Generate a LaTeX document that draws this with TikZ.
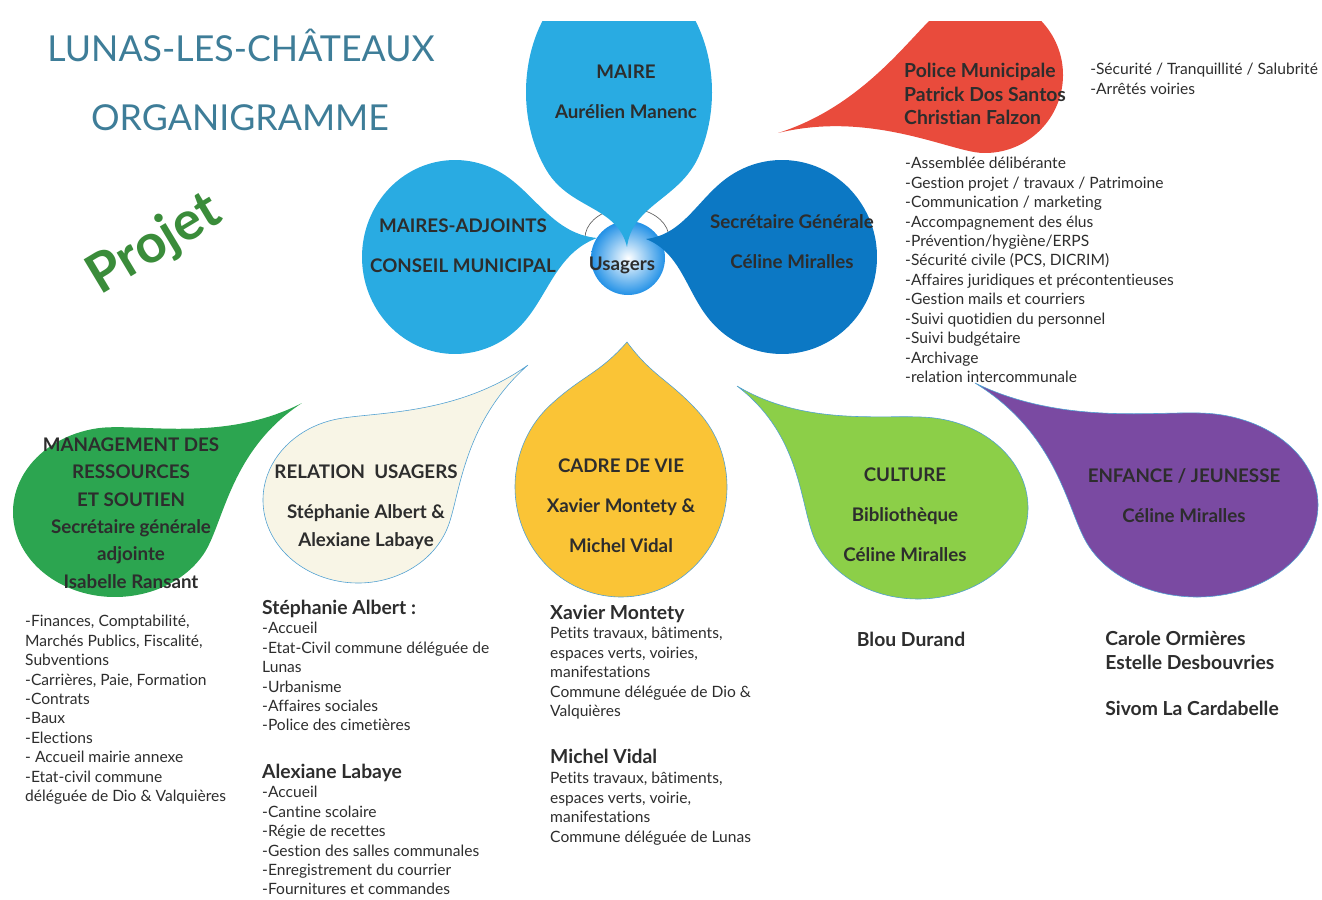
\documentclass[tikz,border=0pt]{standalone}
\usepackage{fontspec}
\setmainfont{Lato}[RawFeature=-liga]
\usepackage{tikz}

\definecolor{bleuclair}{RGB}{41,171,226}
\definecolor{bleufonce}{RGB}{12,120,196}
\definecolor{rouge}{RGB}{233,75,60}
\definecolor{vertfonce}{RGB}{44,165,80}
\definecolor{creme}{RGB}{248,245,230}
\definecolor{jaune}{RGB}{250,196,54}
\definecolor{vertclair}{RGB}{140,207,72}
\definecolor{mauve}{RGB}{122,74,162}
\definecolor{titrebleu}{RGB}{62,125,152}
\definecolor{texte}{RGB}{45,45,45}
\definecolor{contour}{RGB}{80,160,210}
\definecolor{projet}{RGB}{58,140,58}

% goutte : options, centre x, centre y, rayon x, rayon y, pointe x, pointe y, angle, queue
\newcommand{\goutte}[9]{%
  \pgfmathsetmacro\gtS{#5/#4}%
  \pgfmathsetmacro\gtX{#6-#2}%
  \pgfmathsetmacro\gtY{(#7-#3)/\gtS}%
  \pgfmathsetmacro\gtA{atan2(-\gtY,\gtX)}%
  \pgfmathsetmacro\gtD{veclen(\gtX,\gtY)}%
  \begin{scope}[shift={(#2,#3)},yscale=\gtS,rotate=\gtA]
    \path[#1] (\gtD,0)
      .. controls ({\gtD-0.5*(\gtD-#4*cos(#8))},{#9*#4}) and ({#4*cos(#8)+0.4*#4*sin(#8)},{#4*sin(#8)-0.4*#4*cos(#8)})
      .. ({#4*cos(#8)},{#4*sin(#8)})
      arc[start angle=#8,end angle=360-#8,radius=#4]
      .. controls ({#4*cos(#8)+0.4*#4*sin(#8)},{-#4*sin(#8)+0.4*#4*cos(#8)}) and ({\gtD-0.5*(\gtD-#4*cos(#8))},{-#9*#4})
      .. (\gtD,0) -- cycle;
  \end{scope}}

\tikzset{
  titre/.style={font=\bfseries\fontsize{16}{34}\selectfont, align=center, text=texte},
  liste/.style={font=\fontsize{13.3}{16.6}\selectfont, align=left, anchor=north west, inner sep=0pt, text=texte},
  nom/.style={font=\bfseries\fontsize{16.5}{19.5}\selectfont, align=left, anchor=base west, inner sep=0pt, text=texte},
  bord/.style={draw=contour, line width=0.5pt}
}

\begin{document}
\begin{tikzpicture}[x=0.03cm, y=-0.03cm]
		\useasboundingbox (0,0) rectangle (1322,899);
		
		% arcs derriere les usagers
		\draw[gray!80!black, line width=0.6pt] (585,238) arc[start angle=180, end angle=255, x radius=42, y radius=30];
		\draw[gray!80!black, line width=0.6pt] (669,238) arc[start angle=0, end angle=-75, x radius=42, y radius=30];
		\shade[inner color=white, outer color=bleuclair!85!blue] (628,258) circle (37);
		
		\begin{scope}
		\clip (0,22) rectangle (1322,899);
		\goutte{fill=bleuclair}{619}{92}{93}{125}{627}{247}{55}{0.08}
		\goutte{fill=rouge}{985}{75}{78}{78}{778}{133}{72}{0.04}
		\end{scope}
		\goutte{fill=bleuclair}{455}{257}{93}{97}{597}{238}{50}{0.1}
		\goutte{fill=bleufonce}{782}{257}{95}{97}{646}{239}{50}{0.1}
		
		\goutte{fill=vertfonce}{115}{512}{102}{85}{302}{403}{65}{0.05}
		\goutte{fill=creme, bord}{358}{500}{95}{83}{528}{365}{60}{0.05}
		\goutte{fill=jaune, bord}{621}{487}{106}{110}{627}{342}{44}{0.25}
		\goutte{fill=vertclair, bord}{918}{508}{110}{91}{737}{386}{60}{0.05}
		\goutte{fill=mauve, bord}{1197}{505}{121}{92}{975}{383}{60}{0.05}
		
		% titres
		\node[font=\fontsize{30.5}{36}\selectfont, text=titrebleu] (ville) at (241,45) {LUNAS-LES-CHÂTEAUX};
		\node[font=\fontsize{30.5}{36}\selectfont, text=titrebleu] (organi) at (240,118) {ORGANIGRAMME};
		\node[font=\bfseries\fontsize{46}{52}\selectfont, text=projet, rotate=31] (projet) at (155,245) {Projet};
		
		% gouttes du haut
		\node[titre] (maire) at (626,92) {MAIRE\\Aurélien Manenc};
		\node[titre] (adjoints) at (463,246) {MAIRES-ADJOINTS\\CONSEIL MUNICIPAL};
		\node[titre] (sg) at (792,242) {Secrétaire Générale\\Céline Miralles};
		\node[titre] (usagers) at (622,265) {Usagers};
		\node[nom, anchor=north west, font=\bfseries\fontsize{16.5}{20}\selectfont] (police) at (904,63) {Police Municipale\\Patrick Dos Santos\\Christian Falzon};
		
		\node[liste] (police-liste) at (1090,63) {-Sécurité / Tranquillité / Salubrité\\-Arrêtés voiries};
		\node[liste] (sg-liste) at (905,157) {-Assemblée délibérante\\-Gestion projet / travaux / Patrimoine\\-Communication / marketing\\-Accompagnement des élus\\-Prévention/hygiène/ERPS\\-Sécurité civile (PCS, DICRIM)\\-Affaires juridiques et précontentieuses\\-Gestion mails et courriers\\-Suivi quotidien du personnel\\-Suivi budgétaire\\-Archivage\\-relation intercommunale};
		
		% gouttes du bas
		\node[titre, font=\bfseries\fontsize{16}{23.3}\selectfont] (management) at (131,513) {MANAGEMENT DES\\RESSOURCES\\ET SOUTIEN\\Secrétaire générale\\adjointe\\Isabelle Ransant};
		\node[titre, font=\bfseries\fontsize{16}{23.8}\selectfont] (relation) at (366,507) {RELATION\ \ USAGERS\\[10pt]Stéphanie Albert \&\\Alexiane Labaye};
		\node[titre] (cadre) at (621,506) {CADRE DE VIE\\Xavier Montety \&\\Michel Vidal};
		\node[titre] (culture) at (905,515) {CULTURE\\Bibliothèque\\Céline Miralles};
		\node[titre] (enfance) at (1184,496) {ENFANCE / JEUNESSE\\Céline Miralles};
		
		% listes du bas
		\node[liste] (management-liste) at (25,615) {-Finances, Comptabilité,\\Marchés Publics, Fiscalité,\\Subventions\\-Carrières, Paie, Formation\\-Contrats\\-Baux\\-Elections\\- Accueil mairie annexe\\-Etat-civil commune\\déléguée de Dio \& Valquières};
		\node[nom] (stephanie) at (262,614) {Stéphanie Albert :};
		\node[liste] (stephanie-liste) at (262,622) {-Accueil\\-Etat-Civil commune déléguée de\\Lunas\\-Urbanisme\\-Affaires sociales\\-Police des cimetières};
		\node[nom] (alexiane) at (262,778) {Alexiane Labaye};
		\node[liste] (alexiane-liste) at (262,786) {-Accueil\\-Cantine scolaire\\-Régie de recettes\\-Gestion des salles communales\\-Enregistrement du courrier\\-Fournitures et commandes};
		\node[nom] (xavier) at (550,619) {Xavier Montety};
		\node[liste] (xavier-liste) at (550,627) {Petits travaux, bâtiments,\\espaces verts, voiries,\\manifestations\\Commune déléguée de Dio \&\\Valquières};
		\node[nom] (michel) at (550,763) {Michel Vidal};
		\node[liste] (michel-liste) at (550,772) {Petits travaux, bâtiments,\\espaces verts, voirie,\\manifestations\\Commune déléguée de Lunas};
		\node[nom, anchor=base] (blou) at (911,646) {Blou Durand};
		\node[nom, anchor=north west, font=\bfseries\fontsize{16.5}{20}\selectfont] (carole) at (1105,631) {Carole Ormières\\Estelle Desbouvries};
		\node[nom] (sivom) at (1105,715) {Sivom La Cardabelle};
		\end{tikzpicture}
\end{document}
